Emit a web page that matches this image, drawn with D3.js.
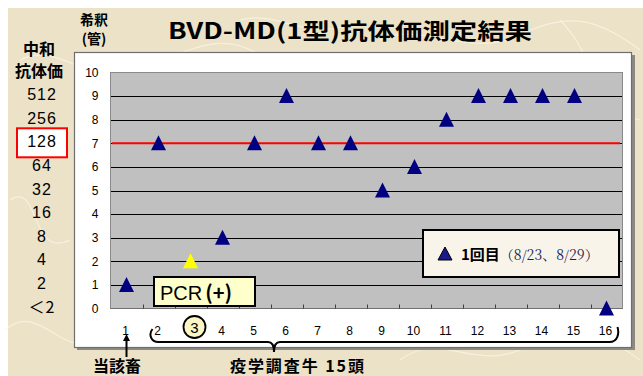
<!DOCTYPE html>
<html>
<head>
<meta charset="utf-8">
<script src="https://cdn.jsdelivr.net/npm/d3@7"></script>
<style>
  html, body { margin: 0; padding: 0; background: #ffffff; }
  svg { display: block; }
</style>
</head>
<body>
<svg id="chart" width="643" height="376"></svg>
<script>
// Animal numbers along the x axis
const animals = ["1","2","3","4","5","6","7","8","9","10","11","12","13","14","15","16"];
// Dilution tube number reached by each animal (first sampling)
const tubes = [1, 7, 2, 3, 7, 9, 7, 7, 5, 6, 8, 9, 9, 9, 9, 0];
// Animal that tested PCR positive
const pcrPositive = "3";
// Tube axis ticks and matching neutralising titres
const tubeTicks = [0,1,2,3,4,5,6,7,8,9,10];
const titreLabels = ["＜2","2","4","8","16","32","64","128","256","512"];
const highlightTitre = "128";
const cutoffTube = 7;

const titleText = "BVD-MD(1型)抗体価測定結果";
const legendText = "1回目";
const legendDates = "（8/23、8/29）";

const svg = d3.select("#chart");
const cjk = "'Noto Sans CJK JP', 'Noto Sans', sans-serif";
const latin = "'Liberation Sans', Arial, sans-serif";

// parchment background
svg.append("rect").attr("x", 8).attr("y", 8).attr("width", 635).attr("height", 368)
  .attr("fill", "#ece2c7");
const streaks = [
  "M20,60 C60,40 90,90 140,70 S220,30 260,55",
  "M10,200 C40,180 30,260 70,240",
  "M380,40 C420,20 470,60 520,35 S600,20 640,50",
  "M560,20 C600,60 590,110 640,120",
  "M5,330 C40,300 60,360 100,340",
  "M400,360 C440,330 470,370 520,350 S600,330 640,360",
  "M240,20 C280,10 300,40 350,25",
  "M620,150 C600,200 640,240 625,300"
];
svg.append("g").selectAll("path").data(streaks).join("path")
  .attr("d", d => d).attr("fill", "none")
  .attr("stroke", "#fbf7ea").attr("stroke-width", 1.2).attr("opacity", 0.7);

// chart panel with shadow
svg.append("rect").attr("x", 77).attr("y", 55).attr("width", 558).attr("height", 295)
  .attr("fill", "#8c8a84");
svg.append("rect").attr("x", 74.5).attr("y", 52.5).attr("width", 557).attr("height", 295)
  .attr("fill", "#ffffff").attr("stroke", "#6e6e6e").attr("stroke-width", 1.2);

const x = d3.scaleBand().domain(animals).range([110.5, 622.5]).padding(0);
const y = d3.scaleLinear().domain([0, 10]).range([308.5, 72.5]);

// plot area
svg.append("rect").attr("x", 110.5).attr("y", y(10)).attr("width", 512).attr("height", y(0) - y(10))
  .attr("fill", "#c0c0c0").attr("stroke", "#8a8a8a").attr("stroke-width", 1);

// horizontal gridlines
svg.append("g").selectAll("line").data(tubeTicks.filter(t => t > 0 && t < 10)).join("line")
  .attr("x1", 111).attr("x2", 622)
  .attr("y1", d => Math.round(y(d)) + 0.5).attr("y2", d => Math.round(y(d)) + 0.5)
  .attr("stroke", "#000000").attr("stroke-width", 1);

// cut-off line
svg.append("line").attr("x1", 112).attr("x2", 620)
  .attr("y1", y(cutoffTube)).attr("y2", y(cutoffTube))
  .attr("stroke", "#ff0000").attr("stroke-width", 2);

// y axis labels
const yAxis = d3.axisLeft(y).tickValues(tubeTicks).tickSize(0).tickPadding(12);
svg.append("g").attr("transform", "translate(110.5,0)").call(yAxis)
  .call(g => g.select(".domain").remove())
  .call(g => g.selectAll("text").attr("font-family", latin).attr("font-size", 12).attr("fill", "#000"));

// x axis: baseline and inward ticks at category boundaries
svg.append("line").attr("x1", 110.5).attr("x2", 622.5).attr("y1", y(0)).attr("y2", y(0))
  .attr("stroke", "#707070").attr("stroke-width", 1.2);
svg.append("g").selectAll("line").data(animals.slice(1)).join("line")
  .attr("x1", d => Math.round(x(d)) + 0.5).attr("x2", d => Math.round(x(d)) + 0.5)
  .attr("y1", y(0)).attr("y2", y(0) - 4)
  .attr("stroke", "#404040").attr("stroke-width", 1);

// x labels
const xl = svg.append("g");
xl.selectAll("text").data(animals.filter(a => a !== pcrPositive)).join("text")
  .attr("x", d => x(d) + x.bandwidth() / 2 - 1)
  .attr("y", 335)
  .attr("text-anchor", "middle")
  .attr("font-family", latin).attr("font-size", 12).attr("fill", "#000")
  .text(d => d);
xl.append("circle").attr("cx", x(pcrPositive) + x.bandwidth() / 2 + 4).attr("cy", 327)
  .attr("r", 11).attr("fill", "#fbf6c4").attr("stroke", "#000").attr("stroke-width", 1.8);
xl.append("text").attr("x", x(pcrPositive) + x.bandwidth() / 2 + 4).attr("y", 332.5)
  .attr("text-anchor", "middle").attr("font-family", latin).attr("font-size", 15).attr("fill", "#000")
  .text(pcrPositive);

// markers
const tri = "M0,-8 L7.5,7 L-7.5,7 Z";
svg.append("g").selectAll("path").data(animals).join("path")
  .attr("d", tri)
  .attr("transform", (d, i) => `translate(${x(d) + x.bandwidth() / 2},${y(tubes[i])})`)
  .attr("fill", d => d === pcrPositive ? "#ffff00" : "#000080");

// PCR note
svg.append("rect").attr("x", 154).attr("y", 277).attr("width", 101).attr("height", 29)
  .attr("fill", "#ffffcc").attr("stroke", "#000").attr("stroke-width", 2);
const pcr = svg.append("text").attr("x", 160).attr("y", 299.5).attr("font-family", latin)
  .attr("font-size", 20).attr("fill", "#000");
pcr.append("tspan").text("PCR");
pcr.append("tspan").attr("font-family", cjk).attr("font-weight", "bold").attr("dx", 3).text("(+)");

// legend
svg.append("rect").attr("x", 423).attr("y", 230).attr("width", 196).attr("height", 47)
  .attr("fill", "#f9f4ea").attr("stroke", "#000").attr("stroke-width", 2);
svg.append("path").attr("d", "M0,-7 L7,6 L-7,6 Z").attr("transform", "translate(445,254)")
  .attr("fill", "#1a1a8a").attr("stroke", "#000").attr("stroke-width", 1);
const lt = svg.append("text").attr("x", 461).attr("y", 259.5).attr("fill", "#000");
lt.append("tspan").attr("font-family", cjk).attr("font-weight", "bold").attr("font-size", 15).text(legendText);
lt.append("tspan").attr("font-family", "'Noto Serif CJK JP', 'DejaVu Serif', serif").attr("font-size", 14)
  .attr("fill", "#1c1c4c").text(legendDates);

// title
svg.append("text").attr("x", 350).attr("y", 39).attr("text-anchor", "middle")
  .attr("font-family", cjk).attr("font-weight", "bold").attr("font-size", 22)
  .attr("textLength", 364).attr("lengthAdjust", "spacingAndGlyphs")
  .text(titleText);

// left-hand titre column
const head = svg.append("g").attr("font-family", cjk).attr("font-weight", "bold").attr("fill", "#000")
  .attr("text-anchor", "middle");
head.append("text").attr("x", 94).attr("y", 25).attr("font-size", 14).text("希釈");
head.append("text").attr("x", 94).attr("y", 44).attr("font-size", 14).text("(管)");
head.append("text").attr("x", 39).attr("y", 55).attr("font-size", 16).text("中和");
head.append("text").attr("x", 39).attr("y", 77).attr("font-size", 16).text("抗体価");

const hl = titreLabels.indexOf(highlightTitre);
svg.append("rect").attr("x", 17).attr("y", y(hl) - 15).attr("width", 50).attr("height", 29)
  .attr("fill", "#ffffff").attr("stroke", "#ff0000").attr("stroke-width", 2);
svg.append("g").selectAll("text").data(titreLabels).join("text")
  .attr("x", 42).attr("y", (d, i) => y(i) + 4)
  .attr("text-anchor", "middle")
  .attr("font-family", d => d.startsWith("＜") ? cjk : latin)
  .attr("font-size", 16).attr("letter-spacing", 1).attr("fill", "#000")
  .text(d => d);

// pointer to the index animal
const ix = x(animals[0]) + x.bandwidth() / 2;
svg.append("line").attr("x1", ix).attr("x2", ix).attr("y1", 338).attr("y2", 357)
  .attr("stroke", "#000").attr("stroke-width", 2);
svg.append("path").attr("d", `M${ix},334 L${ix + 3.5},341 L${ix - 3.5},341 Z`).attr("fill", "#000");
svg.append("text").attr("x", 117).attr("y", 372).attr("text-anchor", "middle")
  .attr("font-family", cjk).attr("font-weight", "bold").attr("font-size", 16).text("当該畜");

// brace under the survey animals
const bl = x(animals[1]) + 8, br = x(animals[15]) + x.bandwidth() - 5, tip = 274;
svg.append("path")
  .attr("d", `M${bl + 2},329 C${bl - 2},334 ${bl},342 ${bl + 8},342 L${tip - 6},342 C${tip - 2},342 ${tip},345 ${tip},352 C${tip},345 ${tip + 2},342 ${tip + 6},342 L${br - 8},342 C${br},342 ${br + 2},334 ${br},327`)
  .attr("fill", "none").attr("stroke", "#000").attr("stroke-width", 2);
svg.append("text").attr("x", 297).attr("y", 372).attr("text-anchor", "middle")
  .attr("font-family", cjk).attr("font-weight", "bold").attr("font-size", 16)
  .attr("textLength", 134).attr("lengthAdjust", "spacing")
  .text("疫学調査牛 15頭");
</script>
</body>
</html>
